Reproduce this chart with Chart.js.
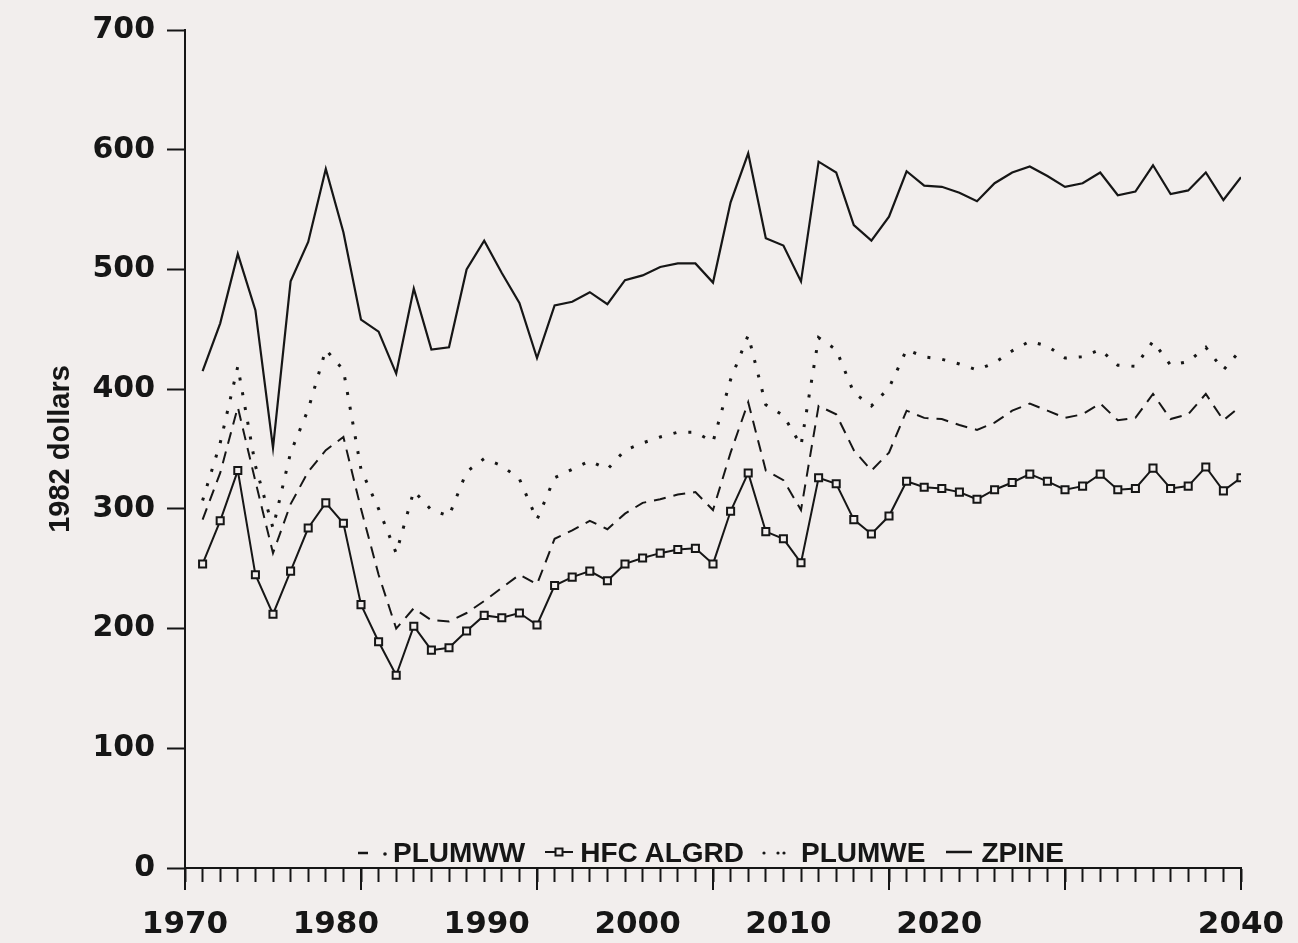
<!DOCTYPE html>
<html>
<head>
<meta charset="utf-8">
<script src="https://cdn.jsdelivr.net/npm/chart.js@4.4.1/dist/chart.umd.min.js"></script>
<style>
  html, body { margin: 0; padding: 0; background: #f2eeed; }
  #wrap { position: relative; width: 1298px; height: 943px; background: #f2eeed; overflow: hidden; }
  #c { position: absolute; left: 0; top: 0; }
  #legend { position: absolute; left: 358px; top: 839px; display: flex; align-items: center;
            font-family: "Liberation Sans", Arial, sans-serif; font-weight: bold; font-size: 28px;
            color: #161616; line-height: 1; white-space: nowrap; }
  #legend .item { display: flex; align-items: center; }
  #legend svg { display: block; }
</style>
</head>
<body>
<div id="wrap">
  <canvas id="c" width="1298" height="943"></canvas>
  <div id="legend"></div>
</div>
<script>
// ---- data (60 annual periods, plotted on the 60-step tick axis) ----
const years = [1971,1972,1973,1974,1975,1976,1977,1978,1979,1980,
               1981,1982,1983,1984,1985,1986,1987,1988,1989,1990,
               1991,1992,1993,1994,1995,1996,1997,1998,1999,2000,
               2001,2002,2003,2004,2005,2006,2007,2008,2009,2010,
               2011,2012,2013,2014,2015,2016,2017,2018,2019,2020,
               2021,2022,2023,2024,2025,2026,2027,2028,2029,2030];

const plumww = [291,330,385,323,263,304,331,349,360,300,
                245,200,217,207,206,213,223,234,245,237,
                275,282,290,283,296,305,308,312,314,299,
                347,389,332,324,299,386,379,349,332,347,
                382,376,375,370,366,372,382,388,382,376,
                379,388,374,376,396,375,379,396,374,386];

const hfcAlgrd = [254,290,332,245,212,248,284,305,288,220,
                  189,161,202,182,184,198,211,209,213,203,
                  236,243,248,240,254,259,263,266,267,254,
                  298,330,281,275,255,326,321,291,279,294,
                  323,318,317,314,308,316,322,329,323,316,
                  319,329,316,317,334,317,319,335,315,326];

const plumwe = [307,355,419,336,284,347,383,433,416,333,
                300,263,315,299,294,331,342,336,325,291,
                326,333,340,333,349,355,360,364,364,356,
                408,445,387,378,353,443,433,397,386,401,
                433,427,425,421,416,422,432,440,436,426,
                427,433,420,419,440,420,423,435,416,433];

const zpine = [415,455,513,466,351,490,523,584,531,458,
               448,413,484,433,435,500,524,497,472,426,
               470,473,481,471,491,495,502,505,505,489,
               556,597,526,520,490,590,581,537,524,544,
               582,570,569,564,557,572,581,586,578,569,
               572,581,562,565,587,563,566,581,558,577];

const seriesNames = ['PLUMWW', 'HFC ALGRD', 'PLUMWE', 'ZPINE'];
// year labels printed under the axis (no 2030 label in the original)
const xTickLabels = ['1970','1980','1990','2000','2010','2020','2040'];
const yTitle = '1982 dollars';

// ---- chart ----
const INK = '#161616';
const BG = '#f2eeed';
const toPts = vals => years.map((yr, i) => ({x: yr, y: vals[i]}));

const majorTicks = {
  id: 'majorTicks',
  afterDraw(chart) {
    const s = chart.scales.x;
    const ctx = chart.ctx;
    ctx.save();
    ctx.strokeStyle = INK;
    ctx.lineWidth = 2;
    for (let v = s.min; v <= s.max; v += 10) {
      const px = Math.round(s.getPixelForValue(v));
      ctx.beginPath();
      ctx.moveTo(px, s.top);
      ctx.lineTo(px, s.top + 22);
      ctx.stroke();
    }
    ctx.restore();
  }
};

const chart = new Chart(document.getElementById('c'), {
  type: 'line',
  data: {
    datasets: [
      { label: seriesNames[0], data: toPts(plumww), borderColor: INK, borderWidth: 2,
        borderDash: [12, 8], pointRadius: 0, fill: false, tension: 0, legendIcon: 'dashdot' },
      { label: seriesNames[1], data: toPts(hfcAlgrd), borderColor: INK, borderWidth: 2,
        pointStyle: 'rect', pointRadius: 5, pointBorderWidth: 2, pointBorderColor: INK,
        pointBackgroundColor: BG, fill: false, tension: 0, legendIcon: 'marker' },
      { label: seriesNames[2], data: toPts(plumwe), borderColor: INK, borderWidth: 3,
        borderDash: [3, 12], pointRadius: 0, fill: false, tension: 0, legendIcon: 'dots' },
      { label: seriesNames[3], data: toPts(zpine), borderColor: INK, borderWidth: 2.2,
        pointRadius: 0, fill: false, tension: 0, legendIcon: 'solid' }
    ]
  },
  options: {
    responsive: false,
    animation: false,
    layout: { padding: { left: 44, right: 57, top: 25, bottom: 0 } },
    plugins: { legend: { display: false }, tooltip: { enabled: false } },
    scales: {
      x: {
        type: 'linear', position: 'bottom', min: 1970, max: 2030,
        ticks: { stepSize: 1, autoSkip: false, display: false },
        grid: { drawOnChartArea: false, tickLength: 14, tickColor: INK, tickWidth: 2 },
        border: { color: INK, width: 2 },
        afterFit(s) { s.height = 22; }
      },
      xLabels: {
        type: 'linear', position: 'bottom', min: 1970, max: 2040,
        grid: { display: false },
        border: { display: false },
        ticks: {
          stepSize: 10, autoSkip: false, maxRotation: 0, minRotation: 0, padding: 8,
          color: INK, font: { family: 'DejaVu Sans', weight: 'bold', size: 31 },
          callback: v => (xTickLabels.includes(String(v)) ? String(v) : '')
        },
        afterFit(s) { s.height = 53; }
      },
      y: {
        min: 0, max: 700,
        ticks: { stepSize: 100, padding: 12, color: INK,
                 font: { family: 'DejaVu Sans', weight: 'bold', size: 30 } },
        grid: { drawOnChartArea: false, tickLength: 18, tickColor: INK, tickWidth: 2 },
        border: { color: INK, width: 2 },
        title: { display: true, text: yTitle, color: INK, padding: 0,
                 font: { family: '"Liberation Sans", Arial', weight: 'bold', size: 29 } },
        afterFit(s) { s.width = 141; }
      }
    }
  },
  plugins: [majorTicks]
});

// ---- HTML legend built from the datasets ----
const icons = {
  dashdot: '<svg width="32" height="20"><line x1="0" y1="10" x2="10" y2="10" stroke="'+INK+'" stroke-width="2.5"/><circle cx="27" cy="11" r="1.8" fill="'+INK+'"/></svg>',
  marker: '<svg width="28" height="20"><line x1="0" y1="9" x2="28" y2="9" stroke="'+INK+'" stroke-width="2"/><rect x="10.5" y="5.5" width="7" height="7" fill="'+BG+'" stroke="'+INK+'" stroke-width="2"/></svg>',
  dots: '<svg width="28" height="20"><circle cx="2" cy="10" r="1.6" fill="'+INK+'"/><circle cx="16" cy="10" r="1.6" fill="'+INK+'"/><circle cx="22" cy="10" r="1.6" fill="'+INK+'"/></svg>',
  solid: '<svg width="26" height="20"><line x1="0" y1="9" x2="26" y2="9" stroke="'+INK+'" stroke-width="2.5"/></svg>'
};
const gaps = { dashdot: [3, 20], marker: [7, 18], dots: [11, 21], solid: [9, 0] };
const legendEl = document.getElementById('legend');
chart.data.datasets.forEach(ds => {
  const item = document.createElement('div');
  item.className = 'item';
  const g = gaps[ds.legendIcon];
  item.style.marginRight = g[1] + 'px';
  item.innerHTML = icons[ds.legendIcon] + '<span style="margin-left:' + g[0] + 'px">' + ds.label + '</span>';
  legendEl.appendChild(item);
});
</script>
</body>
</html>
